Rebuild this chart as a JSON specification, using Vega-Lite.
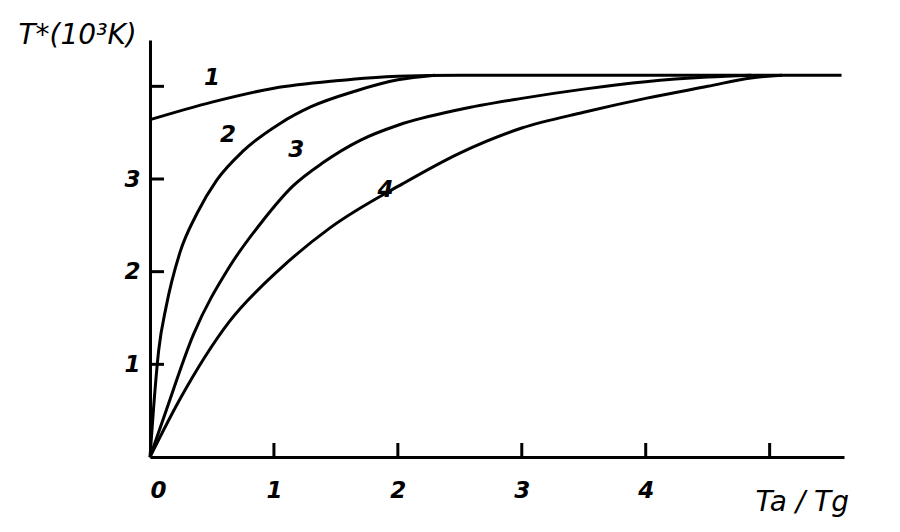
{
  "$schema": "https://vega.github.io/schema/vega-lite/v6.json",
  "width": 694,
  "height": 417,
  "padding": {"left": 150, "top": 40, "right": 56, "bottom": 75},
  "autosize": {"type": "none"},
  "background": "white",
  "config": {
    "view": {"stroke": null},
    "font": "DejaVu Sans",
    "axis": {"grid": false, "domainColor": "black", "domainWidth": 3, "ticks": false, "labelColor": "black", "titleColor": "black", "labelFont": "DejaVu Sans", "labelFontStyle": "italic", "labelFontWeight": "bold", "labelFontSize": 23, "titleFont": "DejaVu Sans", "titleFontStyle": "italic", "titleFontWeight": "normal", "titleFontSize": 28, "format": "d"}
  },
  "datasets": {
    "curves": [
      {"curve": "1", "x": 0, "y": 3.64},
      {"curve": "1", "x": 0.5, "y": 3.83},
      {"curve": "1", "x": 1.0, "y": 3.98},
      {"curve": "1", "x": 1.5, "y": 4.06},
      {"curve": "1", "x": 2.0, "y": 4.11},
      {"curve": "1", "x": 2.5, "y": 4.12},
      {"curve": "1", "x": 5.58, "y": 4.12},
      {"curve": "2", "x": 0, "y": 0},
      {"curve": "2", "x": 0.03, "y": 0.55},
      {"curve": "2", "x": 0.07, "y": 1.15},
      {"curve": "2", "x": 0.13, "y": 1.62},
      {"curve": "2", "x": 0.24, "y": 2.2},
      {"curve": "2", "x": 0.38, "y": 2.63},
      {"curve": "2", "x": 0.54, "y": 2.99},
      {"curve": "2", "x": 0.75, "y": 3.3},
      {"curve": "2", "x": 1.05, "y": 3.6},
      {"curve": "2", "x": 1.3, "y": 3.78},
      {"curve": "2", "x": 1.66, "y": 3.95},
      {"curve": "2", "x": 2.0, "y": 4.07},
      {"curve": "2", "x": 2.3, "y": 4.12},
      {"curve": "3", "x": 0, "y": 0},
      {"curve": "3", "x": 0.13, "y": 0.5},
      {"curve": "3", "x": 0.35, "y": 1.32},
      {"curve": "3", "x": 0.64, "y": 2.05},
      {"curve": "3", "x": 0.91, "y": 2.55},
      {"curve": "3", "x": 1.15, "y": 2.92},
      {"curve": "3", "x": 1.4, "y": 3.18},
      {"curve": "3", "x": 1.7, "y": 3.42},
      {"curve": "3", "x": 2.0, "y": 3.58},
      {"curve": "3", "x": 2.5, "y": 3.75},
      {"curve": "3", "x": 3.0, "y": 3.87},
      {"curve": "3", "x": 3.5, "y": 3.97},
      {"curve": "3", "x": 4.0, "y": 4.05},
      {"curve": "3", "x": 4.5, "y": 4.1},
      {"curve": "3", "x": 4.85, "y": 4.12},
      {"curve": "4", "x": 0, "y": 0},
      {"curve": "4", "x": 0.24, "y": 0.62},
      {"curve": "4", "x": 0.64, "y": 1.46},
      {"curve": "4", "x": 1.05, "y": 2.03},
      {"curve": "4", "x": 1.45, "y": 2.47},
      {"curve": "4", "x": 2.04, "y": 2.95},
      {"curve": "4", "x": 2.5, "y": 3.28},
      {"curve": "4", "x": 3.0, "y": 3.55},
      {"curve": "4", "x": 3.5, "y": 3.72},
      {"curve": "4", "x": 4.0, "y": 3.87},
      {"curve": "4", "x": 4.5, "y": 4.0},
      {"curve": "4", "x": 4.85, "y": 4.09},
      {"curve": "4", "x": 5.1, "y": 4.12}
    ],
    "labels": [
      {"label": "1", "x": 0.5, "y": 4.09},
      {"label": "2", "x": 0.63, "y": 3.47},
      {"label": "3", "x": 1.18, "y": 3.31},
      {"label": "4", "x": 1.9, "y": 2.88}
    ],
    "xticks": [{"x": 1, "y": 0}, {"x": 2, "y": 0}, {"x": 3, "y": 0}, {"x": 4, "y": 0}, {"x": 5, "y": 0}],
    "yticks": [{"x": 0, "y": 1}, {"x": 0, "y": 2}, {"x": 0, "y": 3}, {"x": 0, "y": 4}]
  },
  "layer": [
    {
      "data": {"name": "curves"},
      "mark": {"type": "line", "color": "black", "strokeWidth": 3, "interpolate": "monotone"},
      "encoding": {
        "x": {
          "field": "x", "type": "quantitative",
          "scale": {"domain": [0, 5.6], "nice": false, "zero": false},
          "axis": {"values": [0, 1, 2, 3, 4, 5], "labelExpr": "datum.value == 5 ? '' : datum.label", "labelPadding": 22, "title": "Ta / Tg", "titleX": 605, "titleY": 45, "titleAlign": "left", "titleBaseline": "middle", "titleAngle": 0}
        },
        "y": {
          "field": "y", "type": "quantitative",
          "scale": {"domain": [0, 4.5], "nice": false},
          "axis": {"values": [1, 2, 3, 4], "labelExpr": "datum.value == 4 ? '' : datum.label", "labelPadding": 10, "title": "T*(10³K)", "titleX": -132, "titleY": -5, "titleAlign": "left", "titleBaseline": "middle", "titleAngle": 0}
        },
        "detail": {"field": "curve"}
      }
    },
    {
      "data": {"name": "xticks"},
      "mark": {"type": "tick", "orient": "vertical", "color": "black", "opacity": 1, "size": 14, "thickness": 3, "yOffset": -7},
      "encoding": {
        "x": {"field": "x", "type": "quantitative"},
        "y": {"field": "y", "type": "quantitative"}
      }
    },
    {
      "data": {"name": "yticks"},
      "mark": {"type": "tick", "orient": "horizontal", "color": "black", "opacity": 1, "size": 14, "thickness": 3, "xOffset": 7},
      "encoding": {
        "x": {"field": "x", "type": "quantitative"},
        "y": {"field": "y", "type": "quantitative"}
      }
    },
    {
      "data": {"name": "labels"},
      "mark": {"type": "text", "font": "DejaVu Sans", "fontStyle": "italic", "fontWeight": "bold", "fontSize": 23, "color": "black"},
      "encoding": {
        "x": {"field": "x", "type": "quantitative"},
        "y": {"field": "y", "type": "quantitative"},
        "text": {"field": "label"}
      }
    }
  ]
}
